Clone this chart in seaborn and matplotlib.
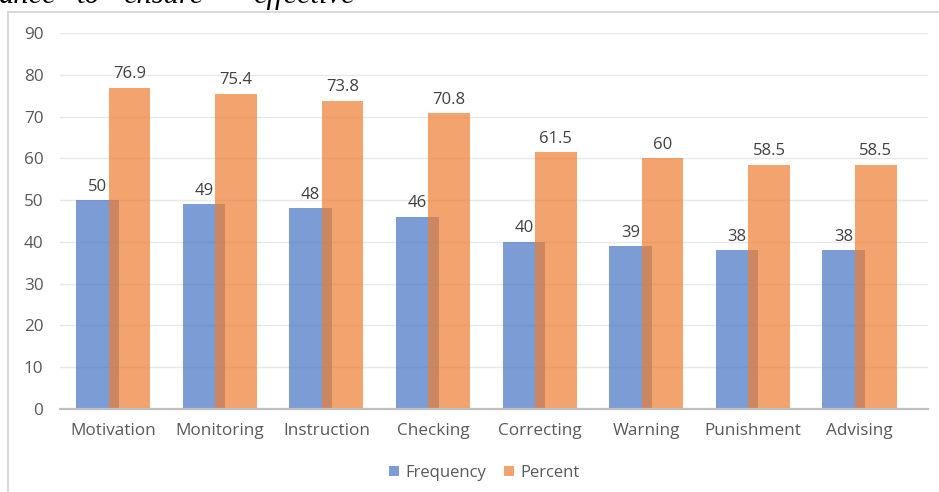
import numpy as np
import pandas as pd
import matplotlib
matplotlib.use("Agg")
import matplotlib.pyplot as plt
from matplotlib.patches import Rectangle
import seaborn as sns

# data
categories = ['Motivation', 'Monitoring', 'Instruction', 'Checking',
              'Correcting', 'Warning', 'Punishment', 'Advising']
frequency = [50, 49, 48, 46, 40, 39, 38, 38]
percent = [76.9, 75.4, 73.8, 70.8, 61.5, 60, 58.5, 58.5]
y_ticks = [0, 10, 20, 30, 40, 50, 60, 70, 80, 90]

blue = '#4472C4'
orange = '#ED7D31'
txt = '#595959'

sns.set_theme(style='white')
plt.rcParams['font.family'] = ['Open Sans', 'DejaVu Sans']

pos = np.arange(len(categories))
df_f = pd.DataFrame({'x': pos - 0.15, 'v': frequency})
df_p = pd.DataFrame({'x': pos + 0.15, 'v': percent})

fig = plt.figure(figsize=(9.39, 4.92), dpi=100)
ax = fig.add_axes([60 / 939, 83 / 492, 868 / 939, 376 / 492])

sns.barplot(data=df_f, x='x', y='v', native_scale=True, width=0.4,
            color=blue, alpha=0.7, saturation=1, linewidth=0, ax=ax,
            label='Frequency')
sns.barplot(data=df_p, x='x', y='v', native_scale=True, width=0.39,
            color=orange, alpha=0.7, saturation=1, linewidth=0, ax=ax,
            label='Percent')

# data labels
for x, v in zip(df_f['x'], frequency):
    ax.annotate(f'{v:g}', (x, v), xytext=(0, 4), textcoords='offset points',
                ha='center', va='bottom', fontsize=12, color='#404040')
for x, v in zip(df_p['x'], percent):
    ax.annotate(f'{v:g}', (x, v), xytext=(0, 4), textcoords='offset points',
                ha='center', va='bottom', fontsize=12, color='#404040')

ax.set_xlim(-0.5, 7.64)
ax.set_ylim(0, 90)
ax.set_yticks(y_ticks)
ax.set_xticks(pos)
ax.set_xticklabels(categories)
ax.set_xlabel('')
ax.set_ylabel('')
ax.tick_params(axis='both', length=0, labelsize=12.3, labelcolor=txt)
ax.tick_params(axis='y', pad=12)
ax.tick_params(axis='x', pad=10)
ax.grid(axis='y', color='#E8E8E8', linewidth=1)
ax.set_axisbelow(True)
for s in ['top', 'right', 'left']:
    ax.spines[s].set_visible(False)
ax.spines['bottom'].set_color('#BFBFBF')
ax.spines['bottom'].set_linewidth(1.6)

leg = ax.legend(loc='center', bbox_to_anchor=(0.489, -0.17), ncol=2, frameon=False,
                fontsize=12, handlelength=0.55, handleheight=0.55,
                columnspacing=1.1, handletextpad=0.4)
for t in leg.get_texts():
    t.set_color(txt)
for h in leg.legend_handles:
    h.set_alpha(0.7)

# chart frame
fig.add_artist(Rectangle((8 / 939, -0.1), 1.0, 0.1 + 1 - 12 / 492,
                         transform=fig.transFigure, fill=False,
                         edgecolor='#D9D9D9', linewidth=1.5))

# cut-off line of document text above the chart
for word, xp in [('ance', -2), ('to', 77), ('ensure', 123), ('effective', 253)]:
    fig.text(xp / 939, 1 - 3 / 492, word, family='Liberation Serif',
             style='italic', fontsize=22, va='baseline', ha='left', color='black')

fig.savefig('out.png', dpi=100)
